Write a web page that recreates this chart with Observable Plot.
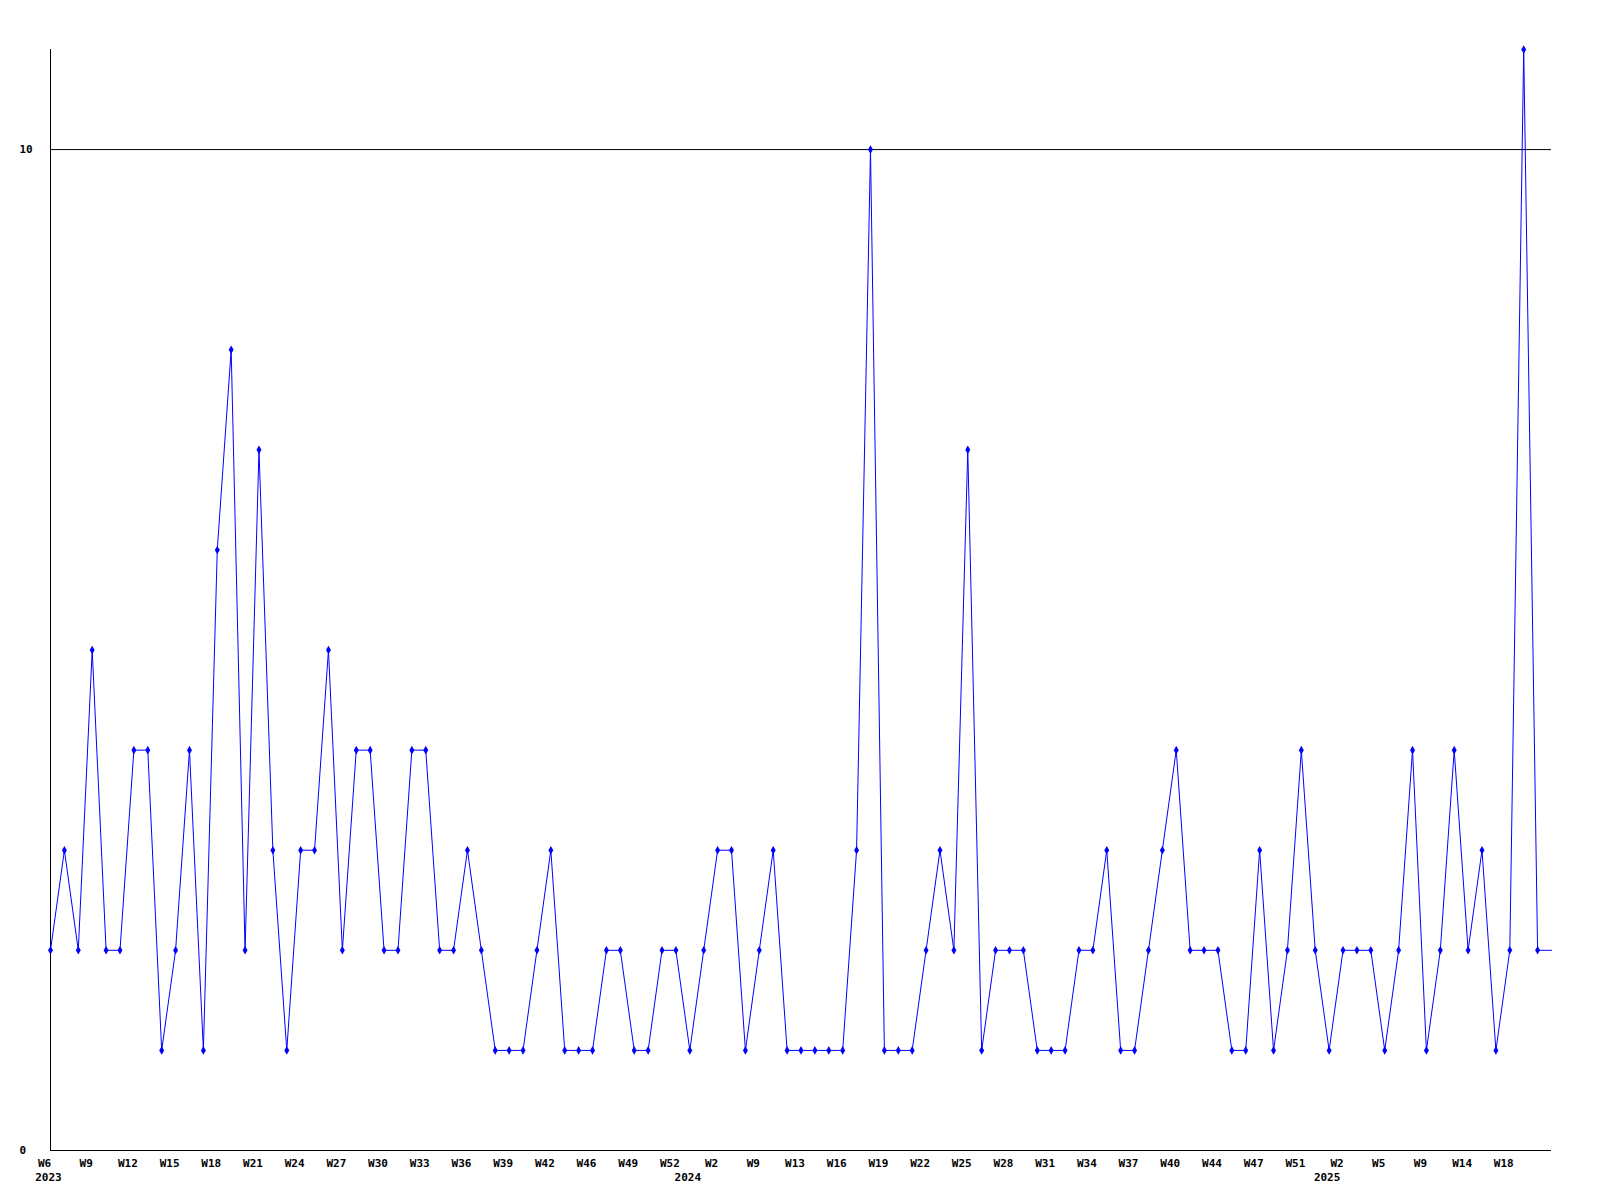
<!DOCTYPE html>
<html>
<head>
<meta charset="utf-8">
<script src="https://cdn.jsdelivr.net/npm/d3@7"></script>
<script src="https://cdn.jsdelivr.net/npm/@observablehq/plot@0.6"></script>
<style>
  html, body { margin: 0; padding: 0; background: #fff; }
  #chart svg { display: block; }
</style>
</head>
<body>
<div id="chart"></div>
<script>
// Week numbers present in the data, per year (weeks without data are skipped)
const weeks2023 = [6,7,8,9,10,11,12,13,14,15,16,17,18,19,20,21,22,23,24,25,26,27,28,29,30,31,32,33,34,35,36,37,38,39,40,41,42,43,45,46,47,48,49,50,51,52];
const weeks2024 = [0,1,2,5,7,9,10,12,13,14,15,16,17,18,19,20,21,22,23,24,25,26,27,28,29,30,31,32,33,34,35,36,37,38,39,40,41,43,44,45,46,47,48,50,51,52];
const weeks2025 = [1,2,3,4,5,6,8,9,11,12,14,15,17,18,19,20,21];
const years = [2023, 2024, 2025];

// Weekly counts, in order
const values = [
  2,3,2,5,2,2,4,4,1,2,
  4,1,6,8,2,7,3,1,3,3,
  5,2,4,4,2,2,4,4,2,2,
  3,2,1,1,1,2,3,1,1,1,
  2,2,1,1,2,2,1,2,3,3,
  1,2,3,1,1,1,1,1,3,10,
  1,1,1,2,3,2,7,1,2,2,
  2,1,1,1,2,2,3,1,1,2,
  3,4,2,2,2,1,1,3,1,2,
  4,2,1,2,2,2,1,2,4,1,
  2,4,2,3,1,2,11,2,2
];

const yTicks = [0, 10];

// Build table
const weekLists = [weeks2023, weeks2024, weeks2025];
const labels = [];
const yearStarts = [];
weekLists.forEach((wl, k) => {
  yearStarts.push({i: labels.length, year: String(years[k])});
  wl.forEach(w => labels.push("W" + w));
});
const data = values.map((v, i) => ({i, v, label: labels[i]}));
const n = data.length;
const xTicks = d3.range(0, n - 1, 3);

const font = "'DejaVu Sans Mono', monospace";

const chart = Plot.plot({
  width: 1600,
  height: 1200,
  marginLeft: 50,
  marginRight: 49,
  marginTop: 49,
  marginBottom: 50,
  style: {fontFamily: font, fontSize: "11px", fontWeight: "bold", color: "#000", background: "#fff"},
  x: {type: "linear", domain: [0, n - 1]},
  y: {domain: [0, 11]},
  marks: [
    Plot.ruleY([10], {stroke: "#000", strokeWidth: 1}),
    Plot.ruleY([0], {stroke: "#000", strokeWidth: 1}),
    Plot.ruleX([0], {stroke: "#000", strokeWidth: 1}),
    Plot.axisY({ticks: yTicks, tickSize: 0, tickPadding: 31, textAnchor: "start", label: null, fill: "#000", fontWeight: "bold"}),
    Plot.axisX({ticks: xTicks, tickFormat: i => labels[i], tickSize: 0, tickPadding: 9, dx: -6, label: null, fill: "#000", fontWeight: "bold"}),
    Plot.text(yearStarts, {x: "i", y: () => 0, text: "year", dy: 27, dx: -2, fill: "#000", fontWeight: "bold", fontSize: 11, fontFamily: font}),
    Plot.line(data, {x: "i", y: "v", stroke: "#0000ff", strokeWidth: 1, curve: "linear"}),
    Plot.dot(data.filter(d => d.i < n - 1), {x: "i", y: "v", symbol: "diamond", r: 2.6, fill: "#0000ff", stroke: "none"})
  ]
});

document.getElementById("chart").appendChild(chart);
</script>
</body>
</html>
